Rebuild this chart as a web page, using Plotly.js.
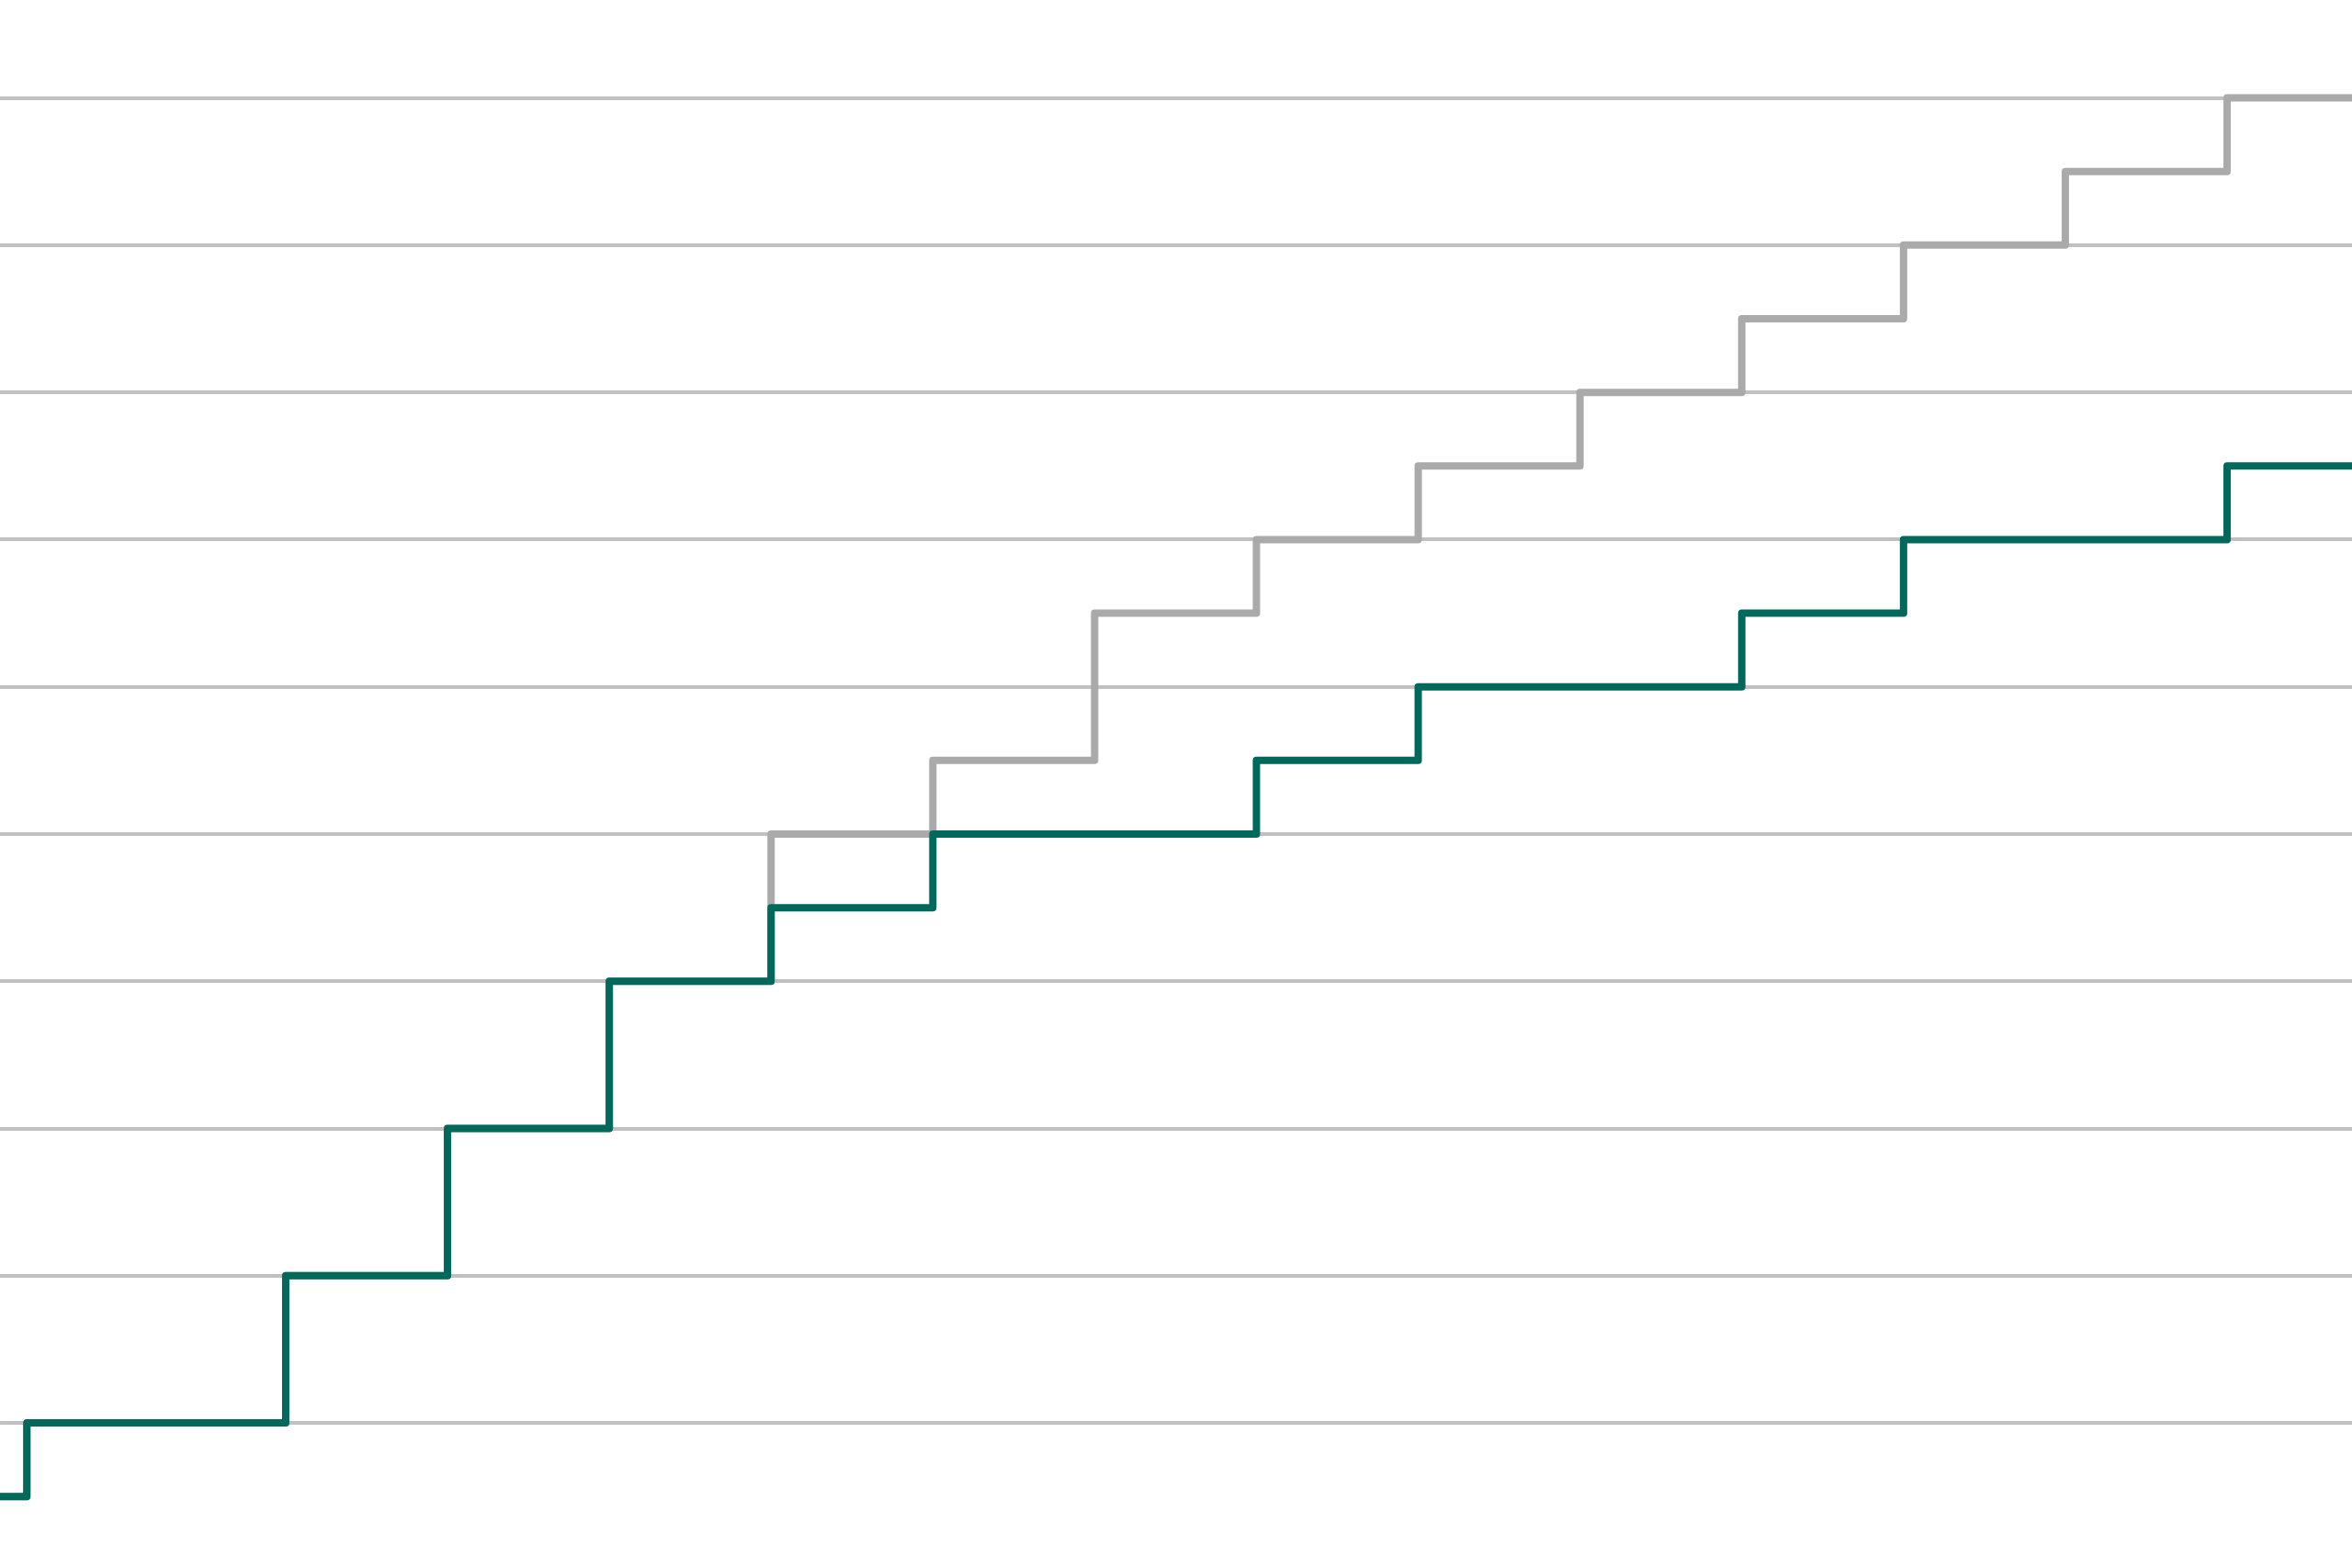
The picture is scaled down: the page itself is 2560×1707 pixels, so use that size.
<!DOCTYPE html>
<html>
<head>
<meta charset="utf-8">
<script src="https://cdn.plot.ly/plotly-3.0.1.min.js"></script>
<style>
  html, body { margin: 0; padding: 0; background: #ffffff; }
  #chart { width: 2560px; height: 1707px; }
  .scatterlayer .js-line { stroke-linejoin: round; }
</style>
</head>
<body>
<div id="chart"></div>
<script>
// Step positions along the x axis (one unit per period)
const periods = [-2, -1.6, 0, 1, 2, 3, 4, 5, 6, 7, 8, 9, 10, 11, 12, 13];
// Cumulative counts, teal series
const tealValues = [1, 2, 4, 6, 8, 9, 10, 10, 11, 12, 12, 13, 14, 14, 15, 15];
// Cumulative counts, grey series
const greyValues = [1, 2, 4, 6, 8, 10, 11, 13, 14, 15, 16, 17, 18, 19, 20, 20];
// Horizontal gridline values
const gridValues = [2, 4, 6, 8, 10, 12, 14, 16, 18, 20];

const traces = [
  {
    x: periods, y: greyValues, type: 'scatter', mode: 'lines',
    line: { shape: 'hv', color: '#aaaaaa', width: 8 },
    hoverinfo: 'skip', showlegend: false
  },
  {
    x: periods, y: tealValues, type: 'scatter', mode: 'lines',
    line: { shape: 'hv', color: '#00695c', width: 8 },
    hoverinfo: 'skip', showlegend: false
  }
];

const layout = {
  width: 2560, height: 1707,
  margin: { l: 0, r: 0, t: 0, b: 0, pad: 0 },
  paper_bgcolor: '#ffffff', plot_bgcolor: '#ffffff',
  showlegend: false,
  xaxis: {
    range: [-1.766, 12.772], showgrid: false, zeroline: false,
    showticklabels: false, ticks: '', showline: false
  },
  yaxis: {
    range: [0.03, 21.33], tickmode: 'array', tickvals: gridValues,
    showgrid: true, gridcolor: '#c0c0c0', gridwidth: 4,
    zeroline: false, showticklabels: false, ticks: '', showline: false
  }
};

Plotly.newPlot('chart', traces, layout, { staticPlot: true, displayModeBar: false });
</script>
</body>
</html>
